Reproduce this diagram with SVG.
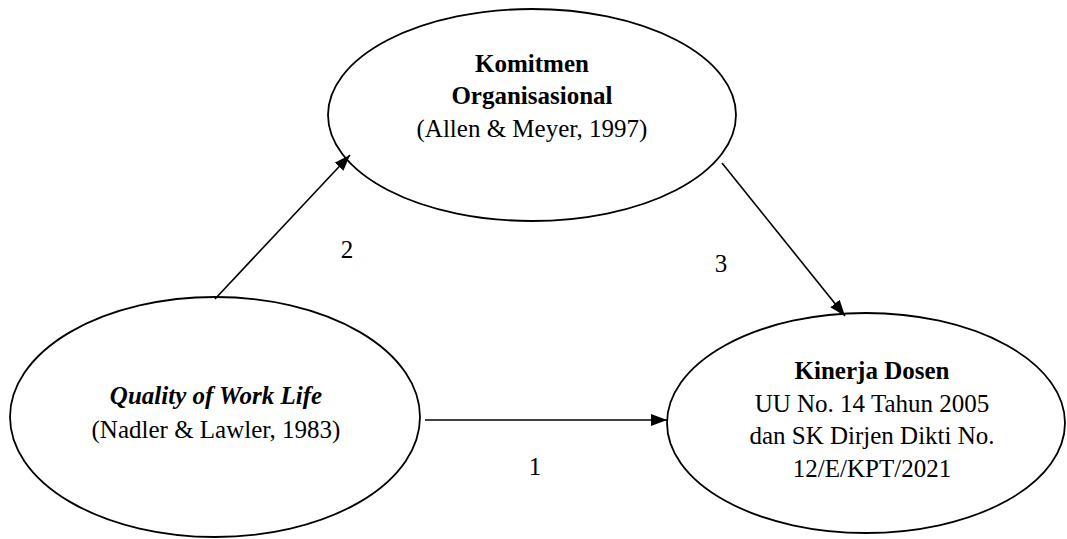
<svg xmlns="http://www.w3.org/2000/svg" width="1067" height="539" viewBox="0 0 1067 539">
<style>
.node{fill:#fff;stroke:#000;stroke-width:1.8}
.t{font-family:"Liberation Serif","Times New Roman",serif;font-size:25px;fill:#000;text-anchor:middle}
.b{font-weight:bold}
.i{font-style:italic;font-weight:bold}
.conn{stroke:#000;stroke-width:1.6;fill:none;marker-end:url(#ah)}
</style>
<defs>
<marker id="ah" viewBox="0 0 16 12" refX="16" refY="6" markerWidth="16" markerHeight="12" markerUnits="userSpaceOnUse" orient="auto">
<path d="M0,0 L16,6 L0,12 Z" fill="#000"/>
</marker>
</defs>
<rect width="1067" height="539" fill="#fff"/>
<g id="komitmen">
<ellipse class="node" cx="532" cy="115" rx="204" ry="106"/>
<text class="t b" x="532" y="72">Komitmen</text>
<text class="t b" x="532" y="104">Organisasional</text>
<text class="t" x="532" y="137">(Allen &amp; Meyer, 1997)</text>
</g>
<g id="qwl">
<ellipse class="node" cx="215" cy="417" rx="205" ry="120"/>
<text class="t i" x="216" y="404">Quality of Work Life</text>
<text class="t" x="216" y="438">(Nadler &amp; Lawler, 1983)</text>
</g>
<g id="kinerja">
<ellipse class="node" cx="866" cy="423" rx="199" ry="110"/>
<text class="t b" x="872" y="379">Kinerja Dosen</text>
<text class="t" x="872" y="412">UU No. 14 Tahun 2005</text>
<text class="t" x="872" y="444">dan SK Dirjen Dikti No.</text>
<text class="t" x="872" y="477">12/E/KPT/2021</text>
</g>
<g id="connectors">
<line class="conn" x1="425" y1="420" x2="667" y2="420"/>
<line class="conn" x1="215" y1="299" x2="350" y2="155"/>
<line class="conn" x1="722" y1="163" x2="845" y2="316"/>
<text class="t" x="535" y="475">1</text>
<text class="t" x="347" y="258">2</text>
<text class="t" x="721" y="272">3</text>
</g>
</svg>
